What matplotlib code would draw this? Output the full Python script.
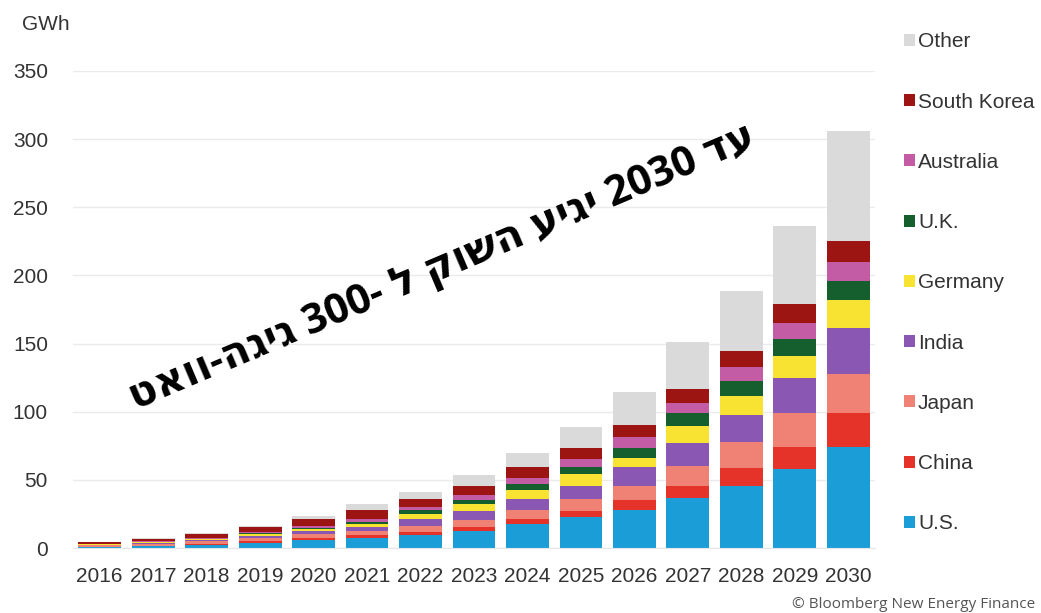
import numpy as np
import matplotlib
matplotlib.use("Agg")
import matplotlib.pyplot as plt
from matplotlib.patches import Patch

years = [str(y) for y in range(2016, 2031)]

# GWh by country (bottom to top)
us      = [0.5, 1.2, 2.2, 3.4, 5.9, 7.1, 9.5, 12.7, 17.6, 22.5, 27.9, 36.4, 45.7, 58.0, 74.0]
china   = [0.5, 0.6, 1.0, 1.4, 1.6, 2.4, 2.5, 2.9, 3.9, 4.9, 7.3, 9.1, 12.7, 16.0, 25.0]
japan   = [1.2, 1.5, 1.8, 2.4, 2.6, 3.2, 4.1, 4.9, 6.4, 8.3, 10.3, 14.5, 19.1, 25.0, 29.0]
india   = [0.2, 0.5, 0.8, 1.8, 2.5, 2.9, 4.9, 6.9, 8.0, 9.8, 13.7, 16.7, 20.0, 26.0, 33.5]
germany = [0.3, 0.4, 0.5, 1.0, 1.3, 2.2, 3.9, 4.6, 6.6, 8.7, 7.1, 12.7, 14.2, 16.0, 20.5]
uk      = [0.2, 0.3, 0.5, 0.7, 1.1, 1.6, 3.0, 3.2, 4.4, 5.4, 6.8, 9.3, 10.7, 12.0, 14.0]
aus     = [0.3, 0.4, 0.6, 1.0, 1.3, 1.6, 2.4, 3.7, 4.2, 5.6, 8.4, 7.8, 10.1, 12.0, 14.0]
korea   = [1.2, 1.8, 2.9, 3.9, 5.1, 6.9, 5.6, 6.8, 8.1, 8.4, 8.4, 10.3, 11.9, 14.0, 15.0]
other   = [0.3, 0.5, 0.9, 0.9, 2.1, 4.1, 5.4, 7.8, 10.2, 15.4, 24.4, 34.0, 44.2, 57.0, 81.0]

series = [("U.S.", us, "#1b9ed8"),
          ("China", china, "#e5332a"),
          ("Japan", japan, "#ef8274"),
          ("India", india, "#8a58b3"),
          ("Germany", germany, "#f8e332"),
          ("U.K.", uk, "#145f2d"),
          ("Australia", aus, "#c35ca4"),
          ("South Korea", korea, "#9c1512"),
          ("Other", other, "#dadada")]

plt.rcParams['font.family'] = ['Liberation Sans', 'DejaVu Sans']

fig = plt.figure(figsize=(10.41, 6.13), dpi=100)
ax = fig.add_axes([73/1041, 65/613, 802/1041, 477/613])

x = np.arange(len(years))
bottom = np.zeros(len(years))
for name, vals, col in series:
    ax.bar(x, vals, width=0.8, bottom=bottom, color=col, linewidth=0, zorder=2)
    bottom += np.array(vals)

ax.set_xlim(-0.5, len(years) - 0.5)
ax.set_ylim(0, 350)
ax.set_yticks(range(0, 351, 50))
ax.set_xticks(x)
ax.set_xticklabels(years)
ax.grid(axis='y', color='#ebebeb', linewidth=1, zorder=0)
for s in ['top', 'right', 'left']:
    ax.spines[s].set_visible(False)
ax.spines['bottom'].set_color('#e6e6e6')
ax.tick_params(axis='both', length=0, labelsize=15, colors='#333333')
ax.tick_params(axis='y', pad=18)
ax.tick_params(axis='x', pad=14)

fig.text(22/1041, 1 - 24/613, "GWh", fontsize=15, color='#333333', va='center')

handles = [Patch(facecolor=col, edgecolor='none', label=name)
           for name, vals, col in series][::-1]
leg = fig.legend(handles=handles, loc='upper left',
                 bbox_to_anchor=(896/1041, 1 - 24/613), frameon=False,
                 fontsize=15, handlelength=0.5, handleheight=0.5,
                 handletextpad=0.15, labelspacing=1.98, borderaxespad=0)
for t in leg.get_texts():
    t.set_color('#333333')

# overlay caption (glyphs given in visual order, matplotlib has no bidi)
fig.text(442/1041, 1 - 268/613, "טאוו-הגיג 300- ל קושה עיגי 2030 דע",
         fontsize=30, fontweight='bold', rotation=23, color='black',
         ha='center', va='center', family=['Open Sans', 'DejaVu Sans'],
         rotation_mode='anchor')

fig.text(1035/1041, 1 - 604/613, "© Bloomberg New Energy Finance",
         fontsize=11, color='#555555', ha='right', va='center',
         family=['Open Sans', 'DejaVu Sans'])

fig.savefig("out.png", dpi=100)
